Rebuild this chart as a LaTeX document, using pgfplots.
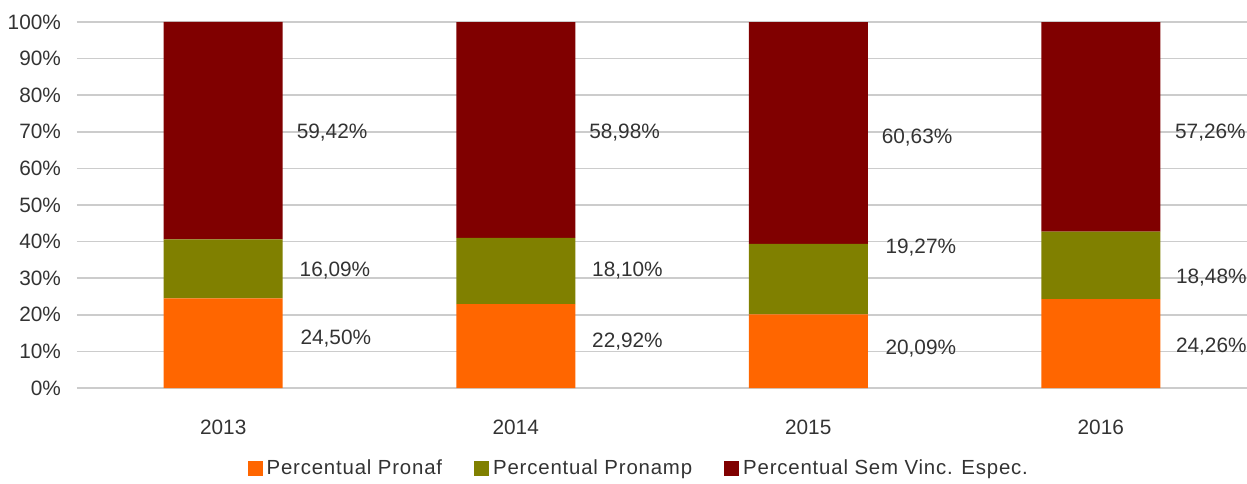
\documentclass[border=0pt]{standalone}
\usepackage{fontspec}
\setmainfont{Liberation Sans}
\newfontfamily\legfont[LetterSpace=4]{Liberation Sans}
\usepackage{pgfplots}
\pgfplotsset{compat=1.18}
\definecolor{cPronaf}{HTML}{FF6600}
\definecolor{cPronamp}{HTML}{808000}
\definecolor{cSem}{HTML}{800000}
\definecolor{txt}{HTML}{333333}
\definecolor{grd}{HTML}{CCCCCC}
\begin{document}
\begin{tikzpicture}
\useasboundingbox (-38.5pt,-47.5pt) rectangle (585pt,194pt);
\begin{axis}[
  scale only axis, width=585pt, height=183pt,
  at={(0,0)}, anchor=south west,
  ybar stacked, bar width=59.5pt,
  xmin=-0.5, xmax=3.5, ymin=0, ymax=100,
  axis line style={draw=none},
  xtick={0,1,2,3}, xticklabels={2013,2014,2015,2016},
  ytick={0,10,...,100},
  yticklabels={0\%,10\%,20\%,30\%,40\%,50\%,60\%,70\%,80\%,90\%,100\%},
  ymajorgrids, grid style={grd, line width=0.8pt},
  major tick length=0pt,
  tick label style={font=\fontsize{10.4}{12}\selectfont, text=txt},
  xticklabel style={yshift=-12.5pt},
  yticklabel style={xshift=-4.5pt},
  legend style={at={(0.481,-0.219)}, anchor=center, draw=none, fill=none,
    font=\legfont\fontsize{10.2}{12}\selectfont, text=txt,
    legend columns=3,
    /tikz/every even column/.append style={column sep=14pt}},
  legend image code/.code={\fill[#1] (0pt,-3.75pt) rectangle (7.5pt,3.75pt);},
  clip=false,
]
\addplot[fill=cPronaf, draw=none] coordinates {(0,24.50) (1,22.92) (2,20.09) (3,24.26)};
\addplot[fill=cPronamp, draw=none] coordinates {(0,16.09) (1,18.10) (2,19.27) (3,18.48)};
\addplot[fill=cSem, draw=none] coordinates {(0,59.42) (1,58.98) (2,60.63) (3,57.26)};
\legend{Percentual Pronaf, Percentual Pronamp, Percentual Sem Vinc. Espec.}
\node[anchor=west, inner sep=0pt, text=txt, font=\fontsize{10.4}{12}\selectfont] at (axis cs:0.250,69.7) {59,42\%};
\node[anchor=west, inner sep=0pt, text=txt, font=\fontsize{10.4}{12}\selectfont] at (axis cs:0.260,32.0) {16,09\%};
\node[anchor=west, inner sep=0pt, text=txt, font=\fontsize{10.4}{12}\selectfont] at (axis cs:0.263,13.4) {24,50\%};
\node[anchor=west, inner sep=0pt, text=txt, font=\fontsize{10.4}{12}\selectfont] at (axis cs:1.250,69.7) {58,98\%};
\node[anchor=west, inner sep=0pt, text=txt, font=\fontsize{10.4}{12}\selectfont] at (axis cs:1.260,32.0) {18,10\%};
\node[anchor=west, inner sep=0pt, text=txt, font=\fontsize{10.4}{12}\selectfont] at (axis cs:1.260,12.8) {22,92\%};
\node[anchor=west, inner sep=0pt, text=txt, font=\fontsize{10.4}{12}\selectfont] at (axis cs:2.250,68.3) {60,63\%};
\node[anchor=west, inner sep=0pt, text=txt, font=\fontsize{10.4}{12}\selectfont] at (axis cs:2.263,38.3) {19,27\%};
\node[anchor=west, inner sep=0pt, text=txt, font=\fontsize{10.4}{12}\selectfont] at (axis cs:2.263,10.9) {20,09\%};
\node[anchor=west, inner sep=0pt, text=txt, font=\fontsize{10.4}{12}\selectfont] at (axis cs:3.253,69.9) {57,26\%};
\node[anchor=west, inner sep=0pt, text=txt, font=\fontsize{10.4}{12}\selectfont] at (axis cs:3.256,30.3) {18,48\%};
\node[anchor=west, inner sep=0pt, text=txt, font=\fontsize{10.4}{12}\selectfont] at (axis cs:3.256,11.2) {24,26\%};
\end{axis}
\end{tikzpicture}
\end{document}
